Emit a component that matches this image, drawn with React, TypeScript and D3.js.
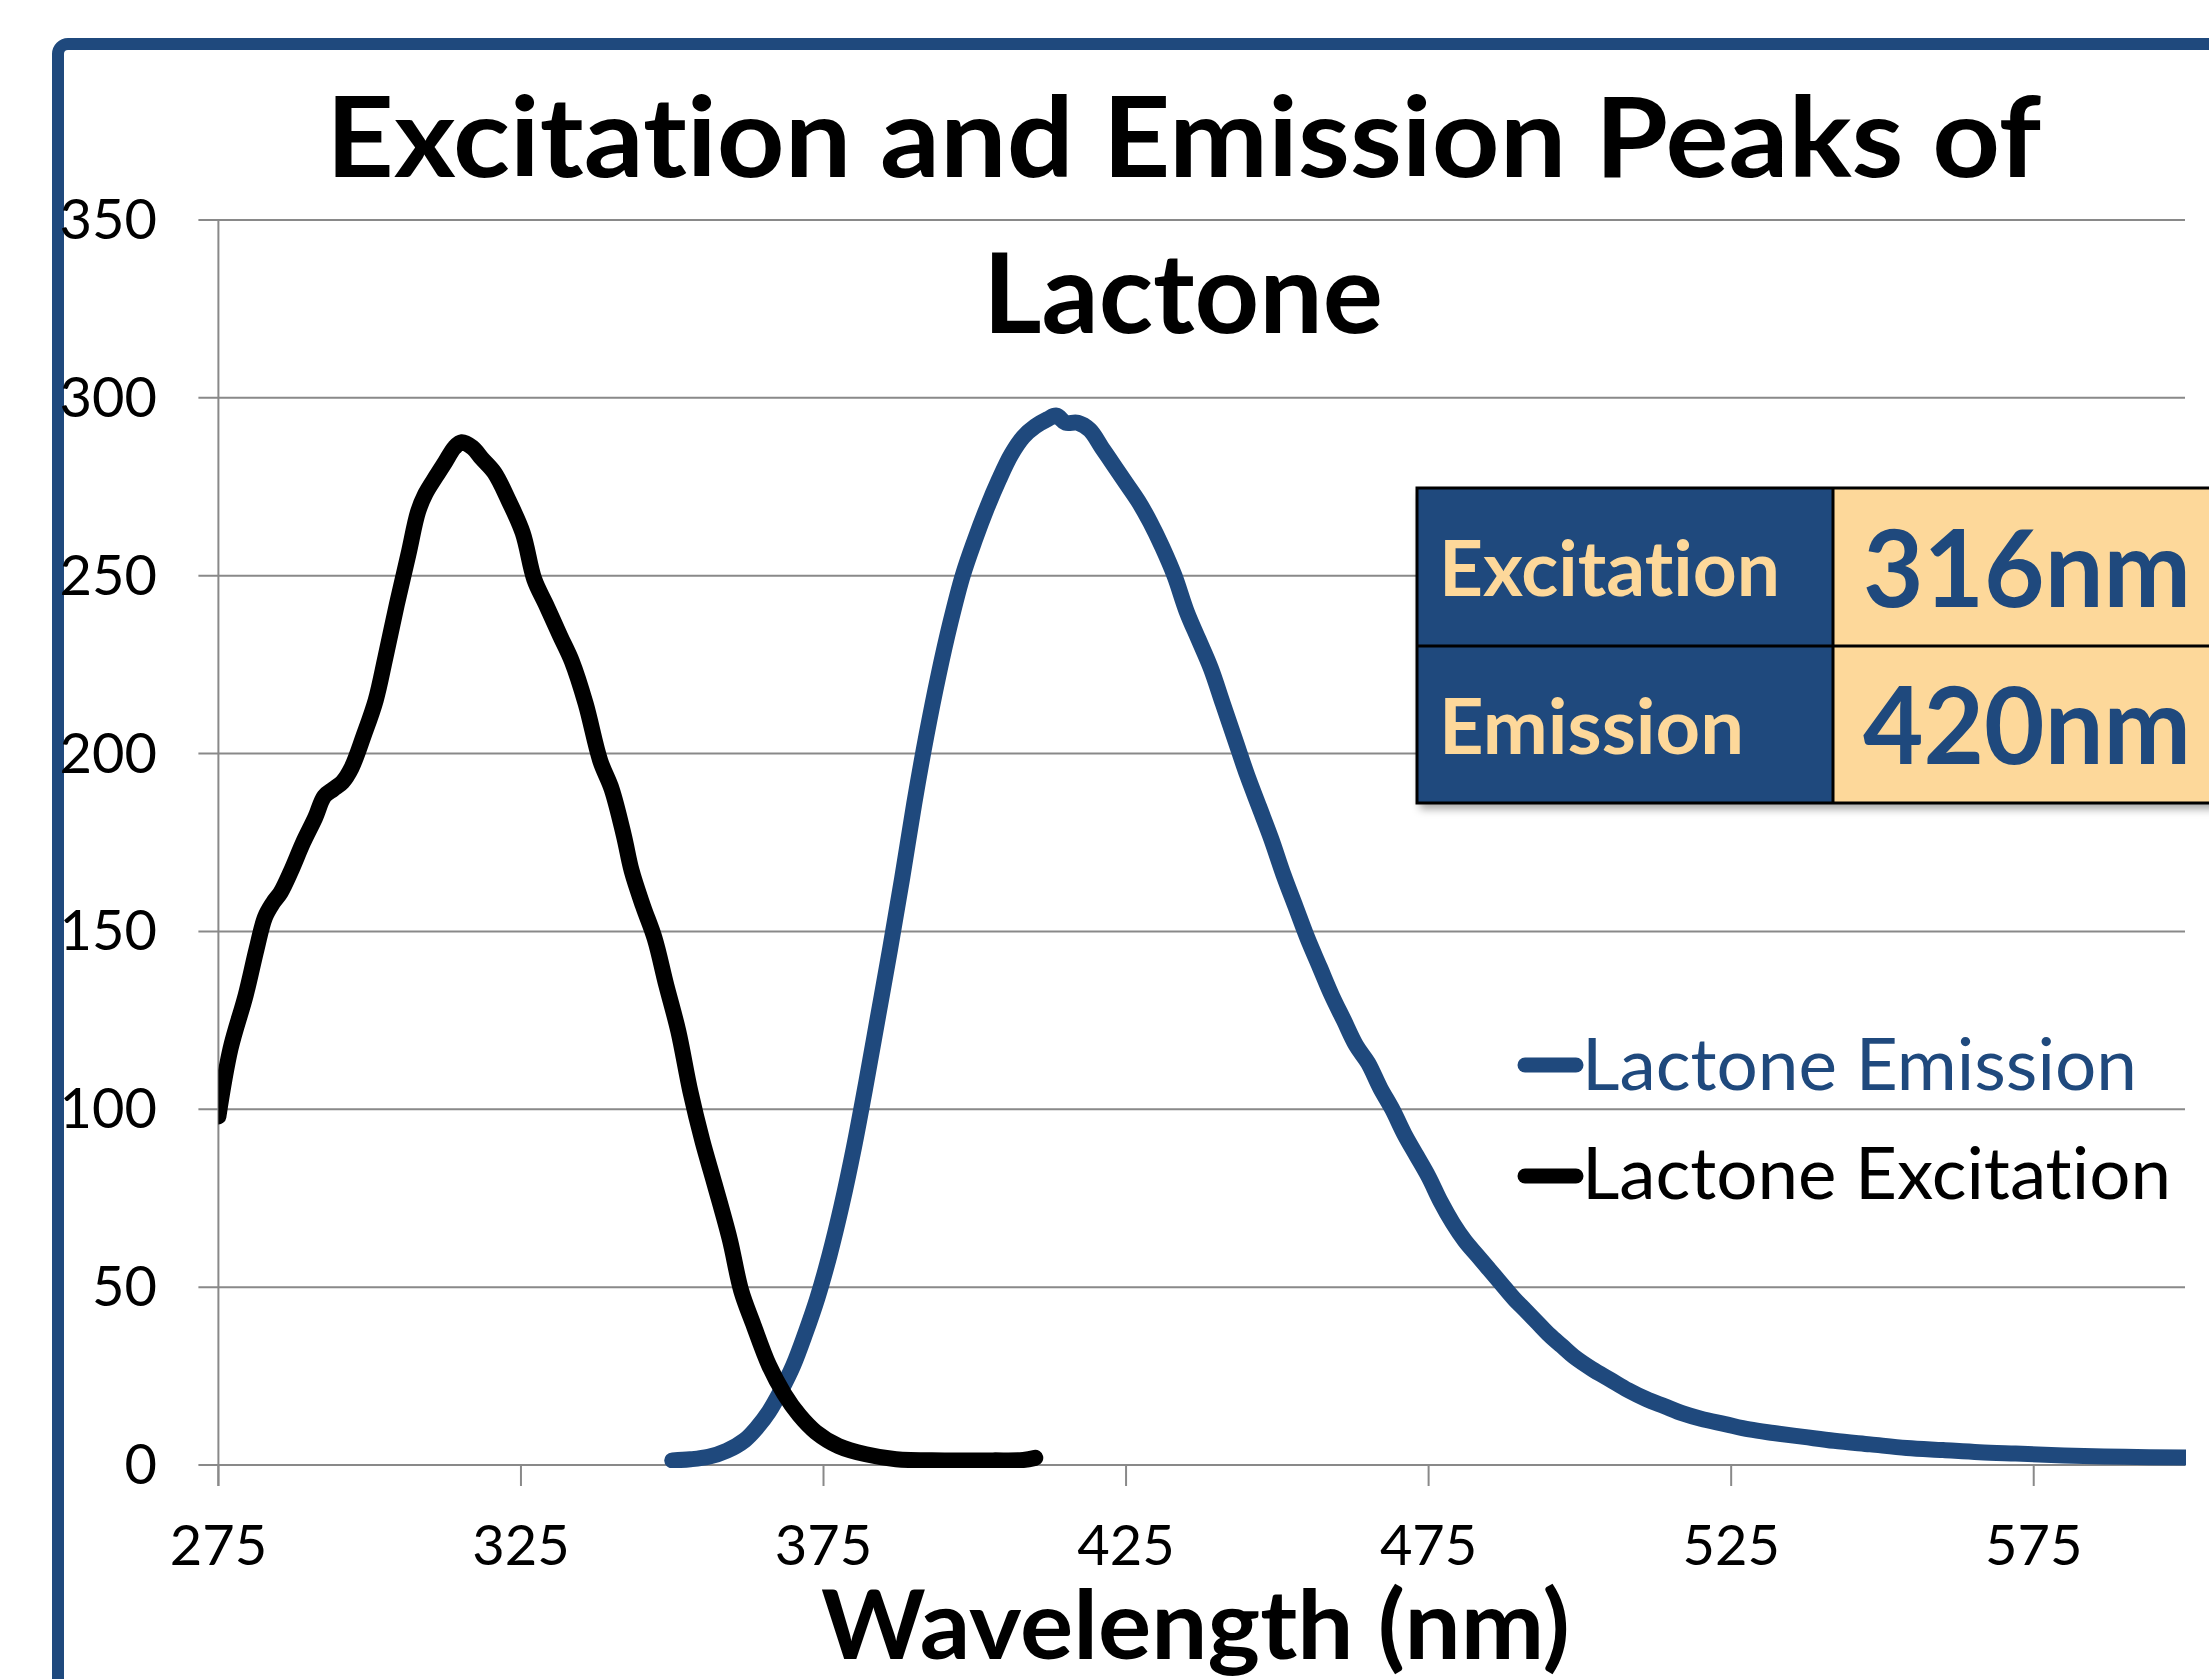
import { useEffect, useRef } from 'react';
import * as d3 from 'd3';

// values
const excitationNm = [275, 277, 279.5, 281.3, 282.7, 284, 285.3, 287, 289, 291, 292.5, 294, 295.5, 297, 299, 301, 302.6, 304.5, 306.4, 308, 309.2, 311, 312.5, 314, 315.2, 317, 318.5, 320.6, 323, 325.3, 327.2, 329.1, 331.5, 333.4, 335.7, 338.1, 340, 342, 343.3, 345.2, 347.1, 349, 351, 353, 355, 357, 359.5, 361.4, 363.3, 366, 368.5, 371, 373.7, 377.5, 382, 387, 395, 403, 408, 410];
const excitationVal = [98, 117, 132, 145, 154, 158, 161, 167, 175, 182, 188, 190, 192, 196, 205, 215, 227, 242, 256, 268, 273, 278, 282, 286, 287.5, 286, 283, 279, 271, 262, 249, 242, 233, 226, 214, 198, 190, 177, 167, 157, 148, 135, 122, 105, 91, 79, 63.5, 49, 40, 28, 20, 14, 9.3, 5.3, 3, 1.6, 1.3, 1.3, 1.4, 2];

const emissionNm = [350, 353, 356, 359, 362, 364, 366, 368, 370, 372, 374, 376, 378, 380, 382, 384, 386, 388, 390, 392, 394, 396, 398, 400, 402, 404, 406, 408, 410, 412, 413.5, 415, 417, 419, 421, 423, 425, 427, 429, 431, 433, 435, 437, 439, 441, 443, 445, 447, 449, 451, 453, 455, 457, 459, 461, 463, 465, 467, 469, 471, 473, 475, 477, 479, 481, 483, 485, 487, 489, 491, 493, 495, 497, 499, 502, 505, 508, 511, 514, 517, 520, 524, 528, 532, 537, 542, 548, 554, 560, 566, 572, 580, 590, 600];
const emissionVal = [1.3, 1.6, 2.3, 4, 7, 10.5, 15, 21, 28, 37, 47, 59, 73, 89, 107, 126, 145, 165, 186, 205, 222, 237, 250, 260, 269, 277, 284, 289, 292, 294, 295, 293, 293, 291, 286, 281, 276, 271, 265, 258, 250, 240, 232, 224, 214, 204, 194, 185, 176, 166, 157, 148, 140, 132, 125, 118, 113, 106, 100, 93, 87, 81, 74, 68, 63, 59, 55, 51, 47, 43.5, 40, 36.5, 33.5, 30.5, 27, 24, 21, 18.5, 16.5, 14.5, 13, 11.5, 10, 9, 7.9, 6.8, 5.8, 4.8, 4.2, 3.6, 3.2, 2.7, 2.3, 2.1];

const xTicks = [275, 325, 375, 425, 475, 525, 575];
const yTicks = [0, 50, 100, 150, 200, 250, 300, 350];
const titleLines = ['Excitation and Emission Peaks of', 'Lactone'];
const seriesNames = ['Lactone Emission', 'Lactone Excitation'];
const peakLabels = ['Excitation', 'Emission'];
const peakValues = ['316nm', '420nm'];

const BLUE = '#1F497D';
const PEACH = '#FDD89A';
const GRID = '#898989';
const FONT = 'Lato, "Open Sans", sans-serif';

const App = () => {
  const svgRef = useRef(null);

  useEffect(() => {
    if (!svgRef.current) return;
    const width = 2209;
    const height = 1679;

    d3.select(svgRef.current).selectAll('*').remove();
    const svg = d3.select(svgRef.current)
      .attr('width', width)
      .attr('height', height)
      .style('font-family', FONT)
      .style('font-variant-ligatures', 'none')
      .style('font-feature-settings', '"liga" 0, "clig" 0');

    svg.append('rect').attr('width', width).attr('height', height).attr('fill', '#fff');

    const x = d3.scaleLinear().domain([275, 600]).range([218.4, 2185]);
    const y = d3.scaleLinear().domain([0, 350]).range([1465, 220]);

    const defs = svg.append('defs');
    defs.append('clipPath').attr('id', 'plot-clip')
      .append('rect')
      .attr('x', x(275)).attr('y', y(350) - 20)
      .attr('width', x(600) - x(275) + 1)
      .attr('height', y(0) - y(350) + 23);
    const shadow = defs.append('filter').attr('id', 'tbl-shadow')
      .attr('x', '-5%').attr('y', '-5%').attr('width', '115%').attr('height', '125%');
    shadow.append('feDropShadow')
      .attr('dx', 3).attr('dy', 6).attr('stdDeviation', 4)
      .attr('flood-color', '#000').attr('flood-opacity', 0.35);

    // chart frame (runs past the right and bottom edges)
    svg.append('rect')
      .attr('x', 58).attr('y', 44)
      .attr('width', 2400).attr('height', 1900)
      .attr('rx', 10)
      .attr('fill', 'none')
      .attr('stroke', BLUE)
      .attr('stroke-width', 12);

    // gridlines + y labels
    yTicks.forEach(t => {
      svg.append('line')
        .attr('x1', x(275) - 20).attr('x2', x(600))
        .attr('y1', y(t)).attr('y2', y(t))
        .attr('stroke', GRID).attr('stroke-width', 2);
      svg.append('text')
        .attr('x', 157).attr('y', y(t) + 19)
        .attr('text-anchor', 'end')
        .style('font-size', '56px')
        .attr('fill', '#000')
        .text(t);
    });

    svg.append('line')
      .attr('x1', x(275)).attr('x2', x(275))
      .attr('y1', y(350)).attr('y2', y(0) + 21)
      .attr('stroke', GRID).attr('stroke-width', 2);

    xTicks.forEach(t => {
      svg.append('line')
        .attr('x1', x(t)).attr('x2', x(t))
        .attr('y1', y(0)).attr('y2', y(0) + 21)
        .attr('stroke', GRID).attr('stroke-width', 2);
      svg.append('text')
        .attr('x', x(t)).attr('y', 1565)
        .attr('text-anchor', 'middle')
        .style('font-size', '56px')
        .attr('fill', '#000')
        .text(t);
    });

    // series lines
    const line = d3.line()
      .x(d => x(d[0]))
      .y(d => y(d[1]))
      .curve(d3.curveCatmullRom.alpha(0.5));

    const plot = svg.append('g').attr('clip-path', 'url(#plot-clip)');
    plot.append('path')
      .attr('d', line(emissionNm.map((n, i) => [n, emissionVal[i]])))
      .attr('fill', 'none')
      .attr('stroke', BLUE)
      .attr('stroke-width', 16)
      .attr('stroke-linecap', 'round')
      .attr('stroke-linejoin', 'round');
    plot.append('path')
      .attr('d', line(excitationNm.map((n, i) => [n, excitationVal[i]])))
      .attr('fill', 'none')
      .attr('stroke', '#000')
      .attr('stroke-width', 16)
      .attr('stroke-linecap', 'round')
      .attr('stroke-linejoin', 'round');

    // title
    const titleStarts = [326, 983];
    const titleWidths = [1715, 400];
    const titleBase = [177, 333];
    titleLines.forEach((t, i) => {
      svg.append('text')
        .attr('x', titleStarts[i]).attr('y', titleBase[i])
        .attr('textLength', titleWidths[i])
        .attr('lengthAdjust', 'spacingAndGlyphs')
        .style('font-size', '111px')
        .style('font-weight', 700)
        .attr('fill', '#000')
        .text(t);
    });

    // axis title
    svg.append('text')
      .attr('x', 821).attr('y', 1659)
      .attr('textLength', 749)
      .attr('lengthAdjust', 'spacingAndGlyphs')
      .style('font-size', '95px')
      .style('font-weight', 700)
      .attr('fill', '#000')
      .text('Wavelength (nm)');

    // legend
    const legendColors = [BLUE, '#000'];
    const legendY = [1065, 1176];
    const legendBase = [1090, 1199];
    const legendWidths = [555, 589];
    seriesNames.forEach((name, i) => {
      svg.append('line')
        .attr('x1', 1525).attr('x2', 1576)
        .attr('y1', legendY[i]).attr('y2', legendY[i])
        .attr('stroke', legendColors[i])
        .attr('stroke-width', 15)
        .attr('stroke-linecap', 'round');
      svg.append('text')
        .attr('x', 1582).attr('y', legendBase[i])
        .attr('textLength', legendWidths[i])
        .attr('lengthAdjust', 'spacingAndGlyphs')
        .style('font-size', '72px')
        .attr('fill', legendColors[i])
        .text(name);
    });

    // peak table
    const tbl = svg.append('g');
    const rowTop = [488, 646];
    const rowH = [158, 157];
    const labelW = [341, 305];
    const labelBase = [596, 754];
    const valueBase = [607, 764];
    tbl.append('rect')
      .attr('x', 1417).attr('y', 488).attr('width', 900).attr('height', 315)
      .attr('fill', PEACH)
      .attr('filter', 'url(#tbl-shadow)');
    peakLabels.forEach((lab, i) => {
      tbl.append('rect')
        .attr('x', 1417).attr('y', rowTop[i])
        .attr('width', 416).attr('height', rowH[i])
        .attr('fill', BLUE);
      tbl.append('rect')
        .attr('x', 1833).attr('y', rowTop[i])
        .attr('width', 500).attr('height', rowH[i])
        .attr('fill', PEACH);
      tbl.append('text')
        .attr('x', 1439).attr('y', labelBase[i])
        .attr('textLength', labelW[i])
        .attr('lengthAdjust', 'spacingAndGlyphs')
        .style('font-size', '77px')
        .style('font-weight', 700)
        .attr('fill', PEACH)
        .text(lab);
      tbl.append('text')
        .attr('x', 1863).attr('y', valueBase[i])
        .attr('textLength', 328)
        .attr('lengthAdjust', 'spacingAndGlyphs')
        .style('font-size', '107px')
        .style('font-weight', 700)
        .attr('fill', BLUE)
        .text(peakValues[i]);
    });
    tbl.append('rect')
      .attr('x', 1417).attr('y', 488).attr('width', 900).attr('height', 315)
      .attr('fill', 'none').attr('stroke', '#000').attr('stroke-width', 3);
    tbl.append('line')
      .attr('x1', 1417).attr('x2', 2317).attr('y1', 646).attr('y2', 646)
      .attr('stroke', '#000').attr('stroke-width', 3);
    tbl.append('line')
      .attr('x1', 1833).attr('x2', 1833).attr('y1', 488).attr('y2', 803)
      .attr('stroke', '#000').attr('stroke-width', 3);
  }, []);

  return (
    <div style={{ position: 'absolute', left: 0, top: 0, width: 2209, height: 1679, overflow: 'hidden', background: '#fff' }}>
      <svg ref={svgRef} style={{ display: 'block' }}></svg>
    </div>
  );
};

export default App;
